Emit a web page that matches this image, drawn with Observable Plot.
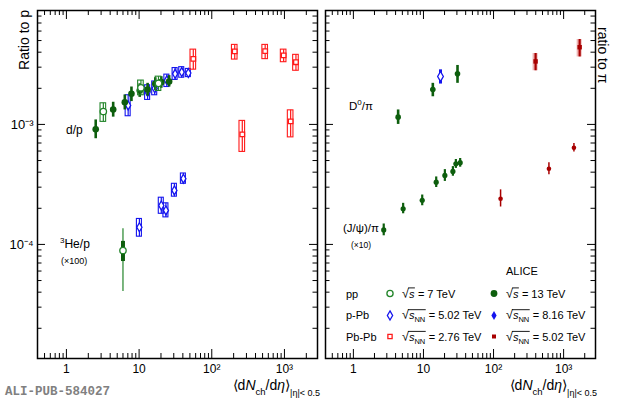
<!DOCTYPE html>
<html><head><meta charset="utf-8">
<script src="https://cdn.jsdelivr.net/npm/d3@7"></script>
<script src="https://cdn.jsdelivr.net/npm/@observablehq/plot@0.6"></script>
<style>
html,body{margin:0;padding:0;background:#fff;}
#chart{position:relative;width:620px;height:401px;overflow:hidden;font-family:"Liberation Sans",Arial,Helvetica,sans-serif;}
#chart svg{position:absolute;top:0;}
</style></head><body><div id="chart"></div>
<script>
// ---- axes ----
const xDomain = [0.4, 2850];
const yDomain = [1.12e-5, 8.9e-3];
const xMajor = [1, 10, 100, 1000];
const xMajorLabels = ["1", "10", "10²", "10³"];
const xMinor = [0.5,0.6,0.7,0.8,0.9, 2,3,4,5,6,7,8,9, 20,30,40,50,60,70,80,90, 200,300,400,500,600,700,800,900, 2000];
const yMajor = [1e-4, 1e-3];
const yMajorLabels = ["10⁻⁴", "10⁻³"];
const yMinor = [2e-5,3e-5,4e-5,5e-5,6e-5,7e-5,8e-5,9e-5, 2e-4,3e-4,4e-4,5e-4,6e-4,7e-4,8e-4,9e-4, 2e-3,3e-3,4e-3,5e-3,6e-3,7e-3,8e-3];

// ---- left panel: ratio to p  [dNch/deta, value, low, high] ----
const dpPP13 = [
  [2.53, 9.1e-4, 7.6e-4, 1.09e-3],
  [4.4, 1.33e-3, 1.15e-3, 1.53e-3],
  [6.36, 1.53e-3, 1.32e-3, 1.76e-3],
  [7.85, 1.80e-3, 1.55e-3, 2.05e-3],
  [10.2, 1.92e-3, 1.68e-3, 2.18e-3],
  [13.1, 1.95e-3, 1.72e-3, 2.2e-3],
  [16.7, 2.18e-3, 1.92e-3, 2.45e-3],
  [20.2, 2.25e-3, 2.0e-3, 2.5e-3],
  [25.9, 2.28e-3, 2.05e-3, 2.55e-3]
];
const dpPP7 = [
  [3.22, 1.28e-3, 1.05e-3, 1.50e-3],
  [10.6, 2.02e-3, 1.75e-3, 2.32e-3],
  [18.5, 2.2e-3, 1.9e-3, 2.5e-3]
];
const dpPPb = [
  [7.07, 1.44e-3, 1.17e-3, 1.75e-3],
  [13.1, 1.86e-3, 1.6e-3, 2.12e-3],
  [16.4, 2.0e-3, 1.75e-3, 2.28e-3],
  [24.1, 2.33e-3, 2.05e-3, 2.6e-3],
  [31.3, 2.64e-3, 2.35e-3, 2.95e-3],
  [38.6, 2.73e-3, 2.45e-3, 3.0e-3],
  [47.6, 2.68e-3, 2.48e-3, 2.9e-3]
];
const dpPbPb = [
  [55.7, 3.52e-3, 2.86e-3, 4.2e-3],
  [207, 4.06e-3, 3.47e-3, 4.6e-3],
  [543, 4.08e-3, 3.5e-3, 4.6e-3],
  [975, 3.76e-3, 3.3e-3, 4.2e-3],
  [1440, 3.3e-3, 2.8e-3, 3.8e-3]
];
const hePbPb = [
  [263, 8.26e-4, 5.9e-4, 1.07e-3],
  [1217, 1.06e-3, 7.8e-4, 1.31e-3]
];
const hePPb = [
  [10.1, 1.39e-4, 1.16e-4, 1.63e-4],
  [20.2, 2.11e-4, 1.8e-4, 2.45e-4],
  [23.4, 1.92e-4, 1.68e-4, 2.2e-4],
  [30.6, 2.82e-4, 2.5e-4, 3.2e-4],
  [40.7, 3.53e-4, 3.2e-4, 3.9e-4]
];
const hePP7 = [[6.0, 8.9e-5, 7.2e-5, 1.06e-4]];
const hePP7Stat = [[6.0, 8.9e-5, 4.06e-5, 1.35e-4]];

// ---- right panel: ratio to pi ----
const dPiPP13 = [
  [4.35, 1.15e-3, 1.0e-3, 1.32e-3],
  [13.6, 1.95e-3, 1.7e-3, 2.2e-3],
  [30.6, 2.64e-3, 2.2e-3, 3.1e-3]
];
const dPiPPb = [[17.5, 2.51e-3, 2.17e-3, 2.85e-3]];
const dPiPbPb = [
  [398, 3.35e-3, 2.8e-3, 3.9e-3],
  [1693, 4.4e-3, 3.65e-3, 5.1e-3]
];
const jPiPP13 = [
  [2.71, 1.32e-4, 1.18e-4, 1.48e-4],
  [5.13, 1.98e-4, 1.8e-4, 2.2e-4],
  [9.6, 2.33e-4, 2.1e-4, 2.58e-4],
  [15.2, 3.3e-4, 2.98e-4, 3.65e-4],
  [20.2, 3.76e-4, 3.35e-4, 4.2e-4],
  [26.3, 4.06e-4, 3.7e-4, 4.45e-4],
  [29.0, 4.7e-4, 4.3e-4, 5.1e-4],
  [33.4, 4.8e-4, 4.4e-4, 5.2e-4]
];
const jPiPbPb = [
  [126, 2.4e-4, 2.05e-4, 2.85e-4],
  [617, 4.27e-4, 3.8e-4, 4.8e-4],
  [1403, 6.4e-4, 5.9e-4, 6.95e-4]
];

const C = {
  green: "#0d5e0d", greenOpen: "#23852a", blue: "#1414ee", red: "#ff1a1a", darkred: "#a80000"
};

const rows = arr => arr.map(([x, y, lo, hi]) => ({x, y, lo, hi}));

function openSeries(arr, color, symbol, r, half) {
  const d = rows(arr);
  return [
    Plot.rect(d, {x1: "x", x2: "x", y1: "lo", y2: "hi", insetLeft: -half, insetRight: -half, fill: "none", stroke: color, strokeWidth: 1.1}),
    Plot.ruleX(d, {x: "x", y1: "lo", y2: "hi", stroke: color, strokeWidth: 1.2}),
    Plot.dot(d, {x: "x", y: "y", symbol, r, stroke: color, fill: "white", strokeWidth: 1.3})
  ];
}
function filledSeries(arr, color, symbol, r, w) {
  const d = rows(arr);
  return [
    Plot.ruleX(d, {x: "x", y1: "lo", y2: "hi", stroke: color, strokeWidth: w}),
    Plot.dot(d, {x: "x", y: "y", symbol, r, fill: color, stroke: "none"})
  ];
}
function frameTicks(W, H) {
  return [
    Plot.tickX(xMinor, {x: d => d, insetTop: H - 5, stroke: "black"}),
    Plot.tickX(xMinor, {x: d => d, insetBottom: H - 5, stroke: "black"}),
    Plot.tickX(xMajor, {x: d => d, insetTop: H - 9, stroke: "black"}),
    Plot.tickX(xMajor, {x: d => d, insetBottom: H - 9, stroke: "black"}),
    Plot.tickY(yMinor, {y: d => d, insetRight: W - 4.5, stroke: "black"}),
    Plot.tickY(yMinor, {y: d => d, insetLeft: W - 4.5, stroke: "black"}),
    Plot.tickY(yMajor, {y: d => d, insetRight: W - 8, stroke: "black"}),
    Plot.tickY(yMajor, {y: d => d, insetLeft: W - 8, stroke: "black"}),
    Plot.frame({stroke: "black", strokeWidth: 1.5})
  ];
}
const xAxisMark = Plot.axisX(xMajor, {tickSize: 0, tickPadding: 6, fontSize: 12, label: null,
  tickFormat: d => xMajorLabels[xMajor.indexOf(d)]});

const common = {
  height: 401, marginTop: 10, marginBottom: 43,
  x: {type: "log", domain: xDomain, label: null},
  style: {overflow: "visible", background: "transparent", maxWidth: "none", fontFamily: "'Liberation Sans', Arial, sans-serif"}
};

const left = Plot.plot({
  ...common, width: 320, marginLeft: 37, marginRight: 3,
  y: {type: "log", domain: yDomain, label: null},
  marks: [
    ...frameTicks(280, 348),
    xAxisMark,
    Plot.axisY(yMajor, {tickSize: 0, tickPadding: 4, fontSize: 13, label: null,
      tickFormat: d => yMajorLabels[yMajor.indexOf(d)]}),
    Plot.ruleX(rows(hePP7Stat), {x: "x", y1: "lo", y2: "hi", stroke: C.greenOpen, strokeWidth: 1.2}),
    Plot.ruleX(rows(hePP7), {x: "x", y1: "lo", y2: "hi", stroke: C.green, strokeWidth: 4}),
    Plot.dot(rows(hePP7), {x: "x", y: "y", r: 3.2, stroke: C.greenOpen, fill: "white", strokeWidth: 1.3}),
    ...openSeries(dpPPb, C.blue, "diamond", 2.7, 2.5),
    ...openSeries(hePPb, C.blue, "diamond", 2.7, 2.5),
    ...filledSeries(dpPP13, C.green, "circle", 3.3, 2.6),
    ...openSeries(dpPP7, C.greenOpen, "circle", 3.2, 2.8),
    ...openSeries(dpPbPb, C.red, "square", 2.6, 2.8),
    ...openSeries(hePbPb, C.red, "square", 2.6, 2.8)
  ]
});
left.style.left = "0px";

const right = Plot.plot({
  ...common, width: 300, marginLeft: 5, marginRight: 25,
  y: {type: "log", domain: yDomain, label: null, axis: null},
  marks: [
    ...frameTicks(270, 348),
    xAxisMark,
    Plot.rect(rows(dPiPbPb), {x1: "x", x2: "x", y1: "lo", y2: "hi", insetLeft: -2.5, insetRight: -2.5, fill: "#e8a0a0", fillOpacity: 0.8}),
    ...filledSeries(dPiPP13, C.green, "circle", 2.8, 2.6),
    ...filledSeries(jPiPP13, C.green, "circle", 2.6, 2.2),
    ...filledSeries(dPiPbPb, C.darkred, "square", 2.5, 2.2),
    ...filledSeries(jPiPbPb, C.darkred, "circle", 2.3, 1.5),
    Plot.ruleX(rows(dPiPPb), {x: "x", y1: "lo", y2: "hi", stroke: C.blue, strokeWidth: 3}),
    Plot.dot(rows(dPiPPb), {x: "x", y: "y", symbol: "diamond", r: 3, stroke: C.blue, fill: "white", strokeWidth: 1.3})
  ]
});
right.style.left = "320px";

const chart = document.getElementById("chart");
chart.appendChild(left);
chart.appendChild(right);

// ---- text overlay ----
const over = d3.select(chart).append("svg")
  .attr("width", 620).attr("height", 401)
  .style("left", "0px").style("pointer-events", "none")
  .attr("font-family", "'Liberation Sans', Arial, sans-serif");

function rich(x, y, parts, opts = {}) {
  const t = over.append("text").attr("x", x).attr("y", y)
    .attr("font-size", opts.size || 12).attr("text-anchor", opts.anchor || "start")
    .attr("fill", opts.fill || "black");
  if (opts.transform) t.attr("transform", opts.transform).attr("x", 0).attr("y", 0);
  if (opts.family) t.attr("font-family", opts.family);
  if (opts.weight) t.attr("font-weight", opts.weight);
  for (const p of parts) {
    const s = t.append("tspan").text(p.t);
    if (p.size) s.attr("font-size", p.size);
    if (p.dy) s.attr("dy", p.dy);
    if (p.italic) s.attr("font-style", "italic");
  }
  return t;
}

// axis titles
rich(0, 0, [{t: "Ratio to p"}], {size: 14, anchor: "end", transform: "translate(29,10) rotate(-90)"});
rich(0, 0, [{t: "ratio to π"}], {size: 14, anchor: "start", transform: "translate(598,27) rotate(90)"});
const xTitle = [
  {t: "⟨d"}, {t: "N", italic: true}, {t: "ch", size: 9.5, dy: 5}, {t: "/d", dy: -5}, {t: "η", italic: true},
  {t: "⟩"}, {t: "|η|< 0.5", size: 9, dy: 6}
];
rich(320, 389.5, xTitle, {size: 14, anchor: "end"});
rich(597, 389.5, xTitle, {size: 14, anchor: "end"});

// panel labels
rich(66, 134, [{t: "d/p"}], {size: 12});
rich(60, 247.5, [{t: "3", size: 8, dy: -5}, {t: "He/p", dy: 5}], {size: 12});
rich(61, 264, [{t: "(×100)"}], {size: 9});
rich(349, 110, [{t: "D"}, {t: "0", size: 8, dy: -5}, {t: "/π", dy: 5}], {size: 11.5});
rich(343, 232, [{t: "(J/ψ)/π"}], {size: 11.5});
rich(351, 248, [{t: "(×10)"}], {size: 8.5});
rich(506, 275, [{t: "ALICE"}], {size: 11});
rich(5, 395, [{t: "ALI-PUB-584027"}], {size: 12.5, family: "'Liberation Mono', 'DejaVu Sans Mono', monospace", weight: "bold", fill: "#808080"});

// legend
const legRows = ["pp", "p-Pb", "Pb-Pb"];
const legLeftSub = [null, "NN", "NN"];
const legLeftVal = ["= 7 TeV", "= 5.02 TeV", "= 2.76 TeV"];
const legRightSub = [null, "NN", "NN"];
const legRightVal = ["= 13 TeV", "= 8.16 TeV", "= 5.02 TeV"];
const legBase = [297.5, 319.3, 341];

function sqrtLabel(x, y, sub, rest) {
  const t = over.append("text").attr("x", x).attr("y", y).attr("font-size", 11);
  t.append("tspan").text("√").attr("font-size", 12.5);
  t.append("tspan").text("s").attr("font-style", "italic");
  if (sub) t.append("tspan").text(sub).attr("font-size", 7.5).attr("dy", 3);
  const sw = t.node().getSubStringLength(0, 1);
  const w = t.node().getComputedTextLength();
  over.append("line").attr("x1", x + sw - 0.8).attr("x2", x + w + 0.5)
    .attr("y1", y - 9.6).attr("y2", y - 9.6).attr("stroke", "black").attr("stroke-width", 0.9);
  over.append("text").attr("x", x + w + 3.5).attr("y", y).attr("font-size", 11).text(rest);
}
function sym(type, x, y, size, color, filled) {
  over.append("path").attr("d", d3.symbol(type, size)()).attr("transform", `translate(${x},${y})`)
    .attr("fill", filled ? color : "white").attr("stroke", filled ? "none" : color).attr("stroke-width", 1.3);
}
legRows.forEach((lab, i) => {
  const y = legBase[i];
  over.append("text").attr("x", 346).attr("y", y).attr("font-size", 11).text(lab);
  sqrtLabel(402, y, legLeftSub[i], legLeftVal[i]);
  sqrtLabel(506, y, legRightSub[i], legRightVal[i]);
});
sym(d3.symbolCircle, 390, 293.5, 30, C.greenOpen, false);
sym(d3.symbolCircle, 494, 293.5, 36, C.green, true);
sym(d3.symbolDiamond, 390, 315.5, 24, C.blue, false);
sym(d3.symbolDiamond, 494, 315.5, 24, C.blue, true);
sym(d3.symbolSquare, 390, 336.5, 18, C.red, false);
sym(d3.symbolSquare, 494, 336.5, 16, C.darkred, true);
</script></body></html>
